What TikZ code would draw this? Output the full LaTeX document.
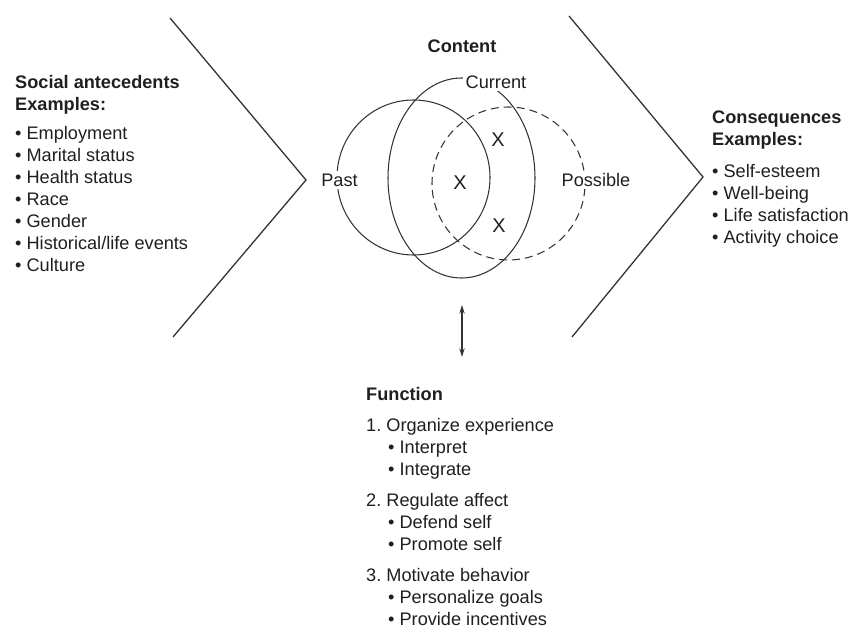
\documentclass[tikz,border=0pt]{standalone}
\usepackage{fontspec}
\setmainfont{Liberation Sans}
\usepackage{tikz}
\usetikzlibrary{arrows.meta, positioning}

\begin{document}
\begin{tikzpicture}[x=0.3mm, y=-0.3mm,
    every node/.style={font=\fontsize{15.5}{18.8}\selectfont, text=black!88, inner sep=0pt},
    listblock/.style={align=left, anchor=north west},
    chevron/.style={line width=1.1pt, draw=black!80},
    setline/.style={line width=0.9pt, draw=black!80},
    setlabel/.style={fill=white, inner sep=2pt},
    xmark/.style={font=\fontsize{17}{20}\selectfont}]
  \useasboundingbox (0,0) rectangle (852,629);

  %% Chevrons
  \draw[chevron] (170,18) -- (306,180) -- (173,337);
  \draw[chevron] (569,16) -- (703,177) -- (572,337);

  %% Social antecedents (left)
  \node[listblock] (antecedents) at (15,75) {%
    {\bfseries Social antecedents}\\
    {\bfseries Examples:}\\[2.2mm]
    • Employment\\
    • Marital status\\
    • Health status\\
    • Race\\
    • Gender\\
    • Historical/life events\\
    • Culture};

  %% Content: past, current, possible selves
  \node[font=\fontsize{15.5}{18.8}\selectfont\bfseries] (content) at (462,46) {Content};
  \draw[setline] (413.5,177.5) ellipse [x radius=22.95mm, y radius=23.25mm];
  \draw[setline] (461.5,178) ellipse [x radius=22.05mm, y radius=30mm];
  \draw[setline, dash pattern=on 2.4mm off 1.5mm] (508.5,183.5) circle [radius=22.95mm];
  \node[setlabel] (current) at (496,82) {Current};
  \node[setlabel] (past) at (339.5,180) {Past};
  \node[setlabel] (possible) at (596,180) {Possible};
  \node[xmark] (x1) at (498,140) {X};
  \node[xmark] (x2) at (460,183) {X};
  \node[xmark] (x3) at (499,226) {X};

  %% Link to function
  \coordinate (linktop) at (462,305);
  \coordinate (linkbot) at (462,357);
  \draw[line width=0.9pt, black!80, {Stealth[length=2.6mm,width=1.6mm]}-{Stealth[length=2.6mm,width=1.6mm]}] (linktop) -- (linkbot);

  %% Consequences (right)
  \node[listblock] (consequences) at (712,111) {%
    {\bfseries Consequences}\\
    {\bfseries Examples:}\\[2.8mm]
    • Self-esteem\\
    • Well-being\\
    • Life satisfaction\\
    • Activity choice};

  %% Function (bottom)
  \node[listblock] (function) at (366,387) {%
    {\bfseries Function}\\[2.7mm]
    1.\ Organize experience\\
    \hspace*{6.6mm}• Interpret\\
    \hspace*{6.6mm}• Integrate\\[2.7mm]
    2.\ Regulate affect\\
    \hspace*{6.6mm}• Defend self\\
    \hspace*{6.6mm}• Promote self\\[2.7mm]
    3.\ Motivate behavior\\
    \hspace*{6.6mm}• Personalize goals\\
    \hspace*{6.6mm}• Provide incentives};
\end{tikzpicture}
\end{document}
